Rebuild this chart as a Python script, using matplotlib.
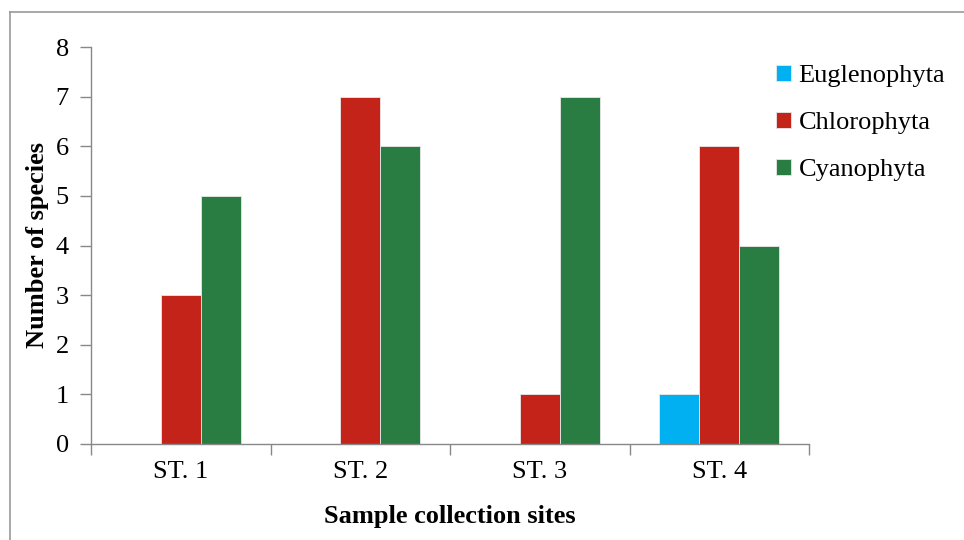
import matplotlib
matplotlib.use('agg')
import matplotlib.pyplot as plt
import numpy as np

sites = ['ST. 1', 'ST. 2', 'ST. 3', 'ST. 4']
euglenophyta = [0, 0, 0, 1]
chlorophyta = [3, 7, 1, 6]
cyanophyta = [5, 6, 7, 4]

series = [('Euglenophyta', euglenophyta, '#00B0F0'),
          ('Chlorophyta', chlorophyta, '#C4231A'),
          ('Cyanophyta', cyanophyta, '#2A7D42')]

plt.rcParams['font.family'] = ['Liberation Serif', 'DejaVu Serif']

fig = plt.figure(figsize=(9.64, 5.4), dpi=100)
ax = fig.add_axes([91 / 964, 1 - 444 / 540, (809 - 91) / 964, (444 - 47) / 540])

x = np.arange(len(sites))
width = 0.223
for i, (name, vals, color) in enumerate(series):
    ax.bar(x + (i - 1) * width, vals, width, color=color, label=name,
           edgecolor='#e8e8e8', linewidth=0.6)

ax.set_xlim(-0.5, len(sites) - 0.5)
ax.set_ylim(0, 8)
ax.set_yticks(range(0, 9))
ax.set_xticks(x)
ax.set_xticklabels(sites)
ax.set_xticks(np.arange(-0.5, len(sites), 1), minor=True)
ax.tick_params(axis='x', which='major', length=0, pad=12, labelsize=19)
ax.tick_params(axis='x', which='minor', length=8, color='#888888', width=1)
ax.tick_params(axis='y', length=8, color='#888888', width=1, pad=8, labelsize=19)

for side in ['top', 'right']:
    ax.spines[side].set_visible(False)
for side in ['left', 'bottom']:
    ax.spines[side].set_color('#888888')
    ax.spines[side].set_linewidth(1)

ax.set_xlabel('Sample collection sites', fontsize=19, fontweight='bold', labelpad=16)
ax.set_ylabel('Number of species', fontsize=19, fontweight='bold', labelpad=5)

fig.legend(*ax.get_legend_handles_labels(), loc='upper left',
           bbox_to_anchor=(776 / 964, 1 - 65 / 540), frameon=False,
           fontsize=19, handlelength=0.55, handleheight=0.55, handletextpad=0.3,
           labelspacing=0.93, borderpad=0, borderaxespad=0)

# frame lines along top and left of the figure
fig.add_artist(plt.Line2D([10 / 964, 1], [1 - 12 / 540] * 2, color='#999999', lw=1.2))
fig.add_artist(plt.Line2D([10 / 964] * 2, [0, 1 - 12 / 540], color='#999999', lw=1.2))

fig.savefig('out.png', dpi=100)
